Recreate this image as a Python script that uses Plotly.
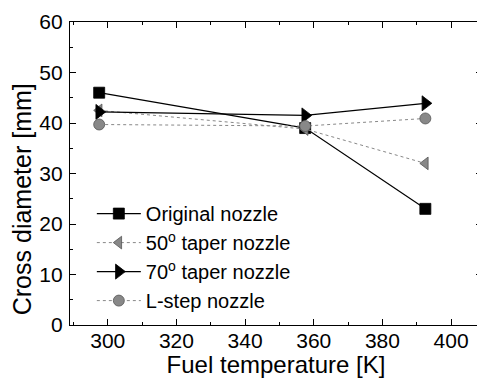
import plotly.graph_objects as go

temps = [297.5, 357.5, 392.5]
original = [46.0, 39.0, 23.0]
taper50 = [42.5, 38.8, 32.0]
taper70 = [42.2, 41.5, 43.9]
lstep = [39.7, 39.4, 40.9]

series = [
    ("Original nozzle", original, "black", "solid", "square", 1.2, 11),
    ("50<sup>o</sup> taper nozzle", taper50, "#888888", "dot", "triangle-left", 1.0, 11),
    ("70<sup>o</sup> taper nozzle", taper70, "black", "solid", "triangle-right", 1.2, 13),
    ("L-step nozzle", lstep, "#888888", "dot", "circle", 1.0, 11),
]

fig = go.Figure()
for name, vals, col, dash, sym, lw, ms in series:
    fig.add_trace(go.Scatter(
        x=temps, y=vals, name=name, mode="lines+markers",
        line=dict(color=col, width=lw, dash=dash),
        marker=dict(symbol=sym, size=ms, color=col,
                    line=dict(color="#555555" if col != "black" else "black", width=0.8)),
    ))

fig.update_layout(
    width=477, height=370,
    margin=dict(l=62, r=2, t=9, b=53),
    paper_bgcolor="white", plot_bgcolor="white",
    font=dict(family="Liberation Sans, Arial, sans-serif", size=20, color="black"),
    showlegend=True,
    legend=dict(x=0.053, y=0.432, xanchor="left", yanchor="top",
                bgcolor="rgba(0,0,0,0)", font=dict(size=20),
                tracegroupgap=0, itemwidth=44),
    annotations=[dict(
        text="Cross diameter [mm]", textangle=-90, showarrow=False,
        xref="paper", yref="paper", x=0, y=0.415, xanchor="center", yanchor="middle",
        xshift=-48, font=dict(size=25),
    )],
)
fig.update_xaxes(
    range=[289, 409], tickvals=[300, 320, 340, 360, 380, 400],
    ticks="inside", ticklen=6, tickwidth=1, tickcolor="black",
    minor=dict(ticks="inside", ticklen=3, dtick=10, tickcolor="black"),
    showline=True, linecolor="black", linewidth=1.2, mirror="ticks",
    showgrid=False, zeroline=False, ticklabeloverflow="allow", ticklabelstandoff=-3,
    title=dict(text="Fuel temperature [K]", font=dict(size=24), standoff=6),
    tickfont=dict(size=21),
)
fig.update_yaxes(
    range=[0, 60], tickvals=[0, 10, 20, 30, 40, 50, 60],
    ticks="inside", ticklen=6, tickwidth=1, tickcolor="black",
    minor=dict(ticks="inside", ticklen=3, dtick=5, tickcolor="black"),
    showline=True, linecolor="black", linewidth=1.2, mirror="ticks",
    showgrid=False, zeroline=False, ticklabelstandoff=2, ticklabeloverflow="allow",
    tickfont=dict(size=21),
)

fig.write_html("out.html")
